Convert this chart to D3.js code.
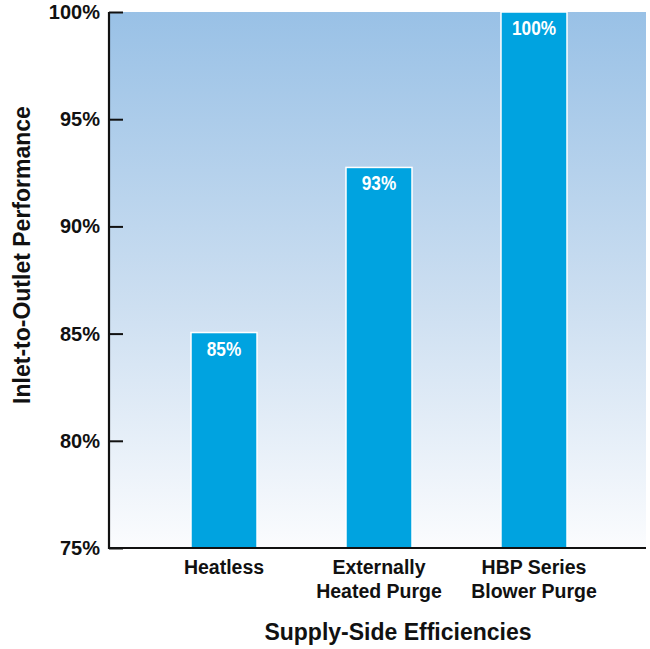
<!DOCTYPE html>
<html><head><meta charset="utf-8">
<script src="https://cdn.jsdelivr.net/npm/d3@7"></script>
<style>body{margin:0;background:#fff}svg{display:block}</style>
</head><body>
<svg id="chart" width="650" height="649"></svg>
<script>
const categories = [["Heatless"], ["Externally", "Heated Purge"], ["HBP Series", "Blower Purge"]];
const values = [85.05, 92.75, 100];
const valueLabels = ["85%", "93%", "100%"];
const yTicks = [75, 80, 85, 90, 95, 100];
const yTitle = "Inlet-to-Outlet Performance";
const xTitle = "Supply-Side Efficiencies";

const svg = d3.select("#chart");
const m = {left: 109, right: 4, top: 12, bottom: 101};
const W = 650, H = 649;
const x = d3.scaleBand().domain(d3.range(categories.length)).range([191, 567]).paddingInner(0.574).paddingOuter(0);
const y = d3.scaleLinear().domain([75, 100]).range([H - m.bottom, m.top]);

const defs = svg.append("defs");
const g = defs.append("linearGradient").attr("id", "bg").attr("x1", 0).attr("y1", 0).attr("x2", 0).attr("y2", 1);
g.append("stop").attr("offset", "0%").attr("stop-color", "#99c1e6");
g.append("stop").attr("offset", "55%").attr("stop-color", "#cddff1");
g.append("stop").attr("offset", "100%").attr("stop-color", "#fbfcfe");

svg.append("rect").attr("x", m.left).attr("y", y(100)).attr("width", W - m.right - m.left)
  .attr("height", y(75) - y(100)).attr("fill", "url(#bg)");

svg.selectAll("rect.bar").data(values).enter().append("rect").attr("class", "bar")
  .attr("x", (d, i) => x(i)).attr("width", x.bandwidth())
  .attr("y", d => y(d)).attr("height", d => y(75) - y(d))
  .attr("fill", "#00a3e0").attr("stroke", "#fff").attr("stroke-width", 1.5);

svg.selectAll("text.vl").data(values).enter().append("text").attr("class", "vl")
  .attr("transform", (d, i) => `translate(${x(i) + x.bandwidth() / 2},${y(d) + 23}) scale(0.82,1)`)
  .attr("text-anchor", "middle").attr("fill", "#fff")
  .style("font-family", "'Liberation Sans', Arial, sans-serif")
  .style("font-weight", "bold").style("font-size", "21px")
  .text((d, i) => valueLabels[i]);

// y axis
const yAxis = d3.axisRight(y).tickValues(yTicks).tickSize(14).tickFormat(d => "");
const ya = svg.append("g").attr("transform", `translate(${m.left},0)`).call(yAxis);
ya.select(".domain").remove();
ya.selectAll("line").attr("stroke", "#111").attr("stroke-width", 2);
svg.selectAll("text.yt").data(yTicks).enter().append("text").attr("class", "yt")
  .attr("x", 100).attr("y", d => y(d) + 7).attr("text-anchor", "end")
  .style("font-family", "'Liberation Sans', Arial, sans-serif").style("font-weight", "bold")
  .style("font-size", "20px").attr("fill", "#111").text(d => d + "%");

svg.append("line").attr("x1", m.left).attr("x2", m.left).attr("y1", y(100)).attr("y2", y(75) + 1)
  .attr("stroke", "#111").attr("stroke-width", 2.2);
svg.append("line").attr("x1", m.left - 1).attr("x2", W - m.right).attr("y1", y(75)).attr("y2", y(75))
  .attr("stroke", "#111").attr("stroke-width", 2.2);

// category labels
categories.forEach((lines, i) => {
  const cx = x(i) + x.bandwidth() / 2;
  const t = svg.append("text").attr("x", cx).attr("y", 574)
    .attr("text-anchor", "middle").attr("fill", "#111")
    .style("font-family", "'Liberation Sans', Arial, sans-serif").style("font-weight", "bold").style("font-size", "19.5px");
  lines.forEach((l, j) => t.append("tspan").attr("x", cx).attr("dy", j ? 24 : 0).text(l));
});

svg.append("text").attr("x", 398).attr("y", 640).attr("text-anchor", "middle").attr("fill", "#111")
  .style("font-family", "'Liberation Sans', Arial, sans-serif").style("font-weight", "bold").style("font-size", "23px")
  .text(xTitle);

svg.append("text").attr("transform", "translate(30,255) rotate(-90)").attr("text-anchor", "middle").attr("fill", "#111")
  .style("font-family", "'Liberation Sans', Arial, sans-serif").style("font-weight", "bold").style("font-size", "23px")
  .text(yTitle);
</script>
</body></html>
